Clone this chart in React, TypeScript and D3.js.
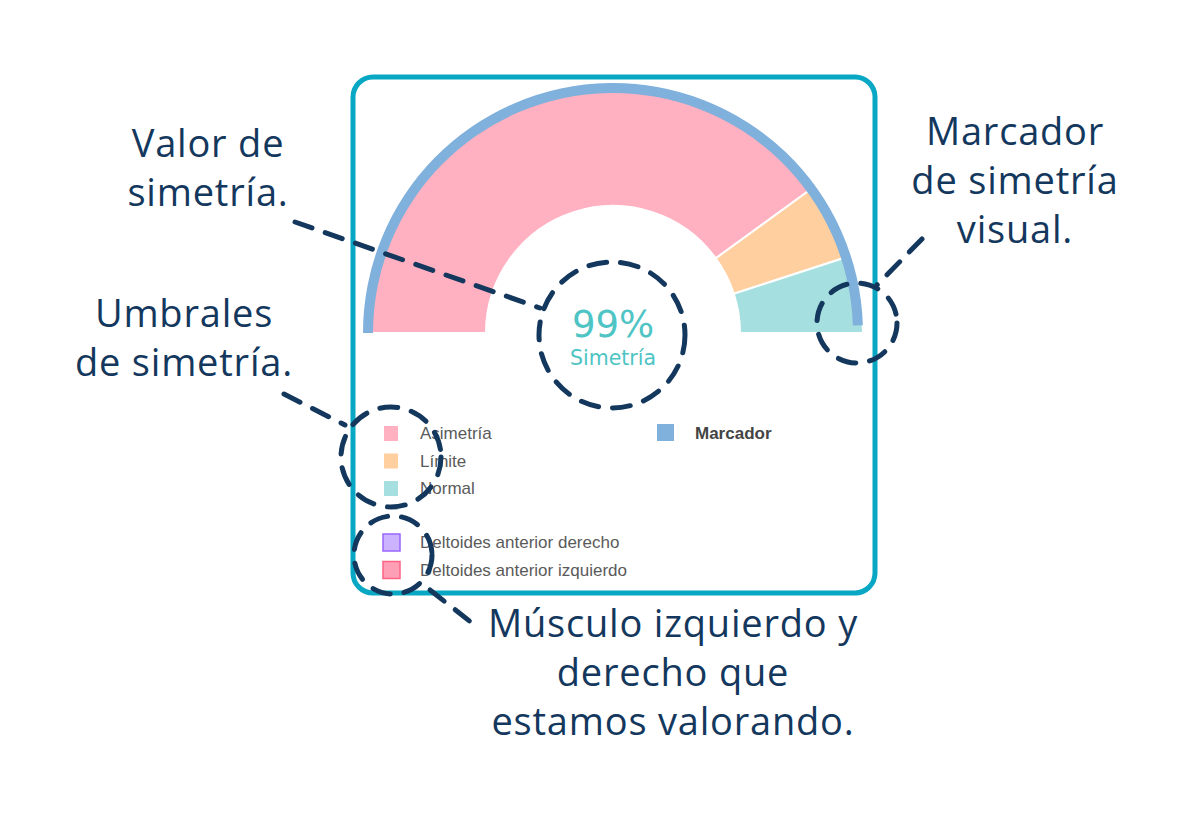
import React from 'react';
import * as d3 from 'd3';

// gauge thresholds (percent spans, left to right)
const thresholdLabels = ['Asimetría', 'Límite', 'Normal'];
const thresholdSpans = [80, 10, 10];
const thresholdColors = ['#FFB1C1', '#FFCFA0', '#A5DFDF'];

const symmetryValue = 99;
const symmetryLabel = 'Simetría';
const markerLabel = 'Marcador';
const markerColor = '#80B0DC';

const muscleLabels = ['Deltoides anterior derecho', 'Deltoides anterior izquierdo'];
const muscleFills = ['#CCB3FF', '#FF9FB6'];
const muscleStrokes = ['#9966FF', '#FF6384'];

// callout texts
const calloutValor = ['Valor de', 'simetría.'];
const calloutUmbrales = ['Umbrales', 'de simetría.'];
const calloutMarcador = ['Marcador', 'de simetría', 'visual.'];
const calloutMusculo = ['Músculo izquierdo y', 'derecho que', 'estamos valorando.'];

const W = 1200;
const H = 820;
const NAVY = '#14385D';
const ANNOT_FONT = '"Open Sans", "Noto Sans", sans-serif';
const LEGEND_FONT = '"Liberation Sans", Arial, sans-serif';

export default function App() {
  const cx = 613;
  const cy = 333;
  const innerR = 127;
  const outerR = 250;
  const markerInner = 240;

  const angle = d3.scaleLinear().domain([0, 100]).range([-Math.PI / 2, Math.PI / 2]);

  const pie = d3.pie<number>()
    .sort(null)
    .value(d => d)
    .startAngle(-Math.PI / 2)
    .endAngle(Math.PI / 2);
  const slices = pie(thresholdSpans);

  const segArc = d3.arc<d3.PieArcDatum<number>>().innerRadius(innerR).outerRadius(outerR);
  const markerArc = d3.arc()({
    innerRadius: markerInner,
    outerRadius: outerR,
    startAngle: angle(0),
    endAngle: angle(symmetryValue),
  } as any) as string;

  const dash = {
    fill: 'none',
    stroke: NAVY,
    strokeWidth: 5,
    strokeDasharray: '18 14',
    strokeLinecap: 'round' as const,
  };

  const callout = (lines: string[], x: number, y0: number, key: string) => (
    <text key={key} x={x} y={y0} textAnchor="middle" fill={NAVY}
      style={{ fontFamily: ANNOT_FONT, fontSize: 38, letterSpacing: 0.8 }}>
      {lines.map((l, i) => (
        <tspan key={i} x={x} y={y0 + i * 49}>{l}</tspan>
      ))}
    </text>
  );

  return (
    <svg width={W} height={H} style={{ display: 'block', margin: -8, background: '#fff' }}>
      {/* card */}
      <rect x={353} y={77} width={522} height={516} rx={20} ry={20}
        fill="#fff" stroke="#08A7C3" strokeWidth={5} />

      {/* gauge */}
      <g transform={`translate(${cx},${cy})`}>
        {slices.map((s, i) => (
          <path key={i} d={segArc(s) as string} fill={thresholdColors[i]}
            stroke="#fff" strokeWidth={2} strokeLinejoin="round" />
        ))}
        <path d={markerArc} fill={markerColor} />
        <text x={0} y={4} textAnchor="middle" fill="#4EC4C4"
          style={{ fontFamily: '"DejaVu Sans", Verdana, sans-serif', fontSize: 37 }}>
          {`${symmetryValue}%`}
        </text>
        <text x={0} y={32} textAnchor="middle" fill="#4EC4C4"
          style={{ fontFamily: '"DejaVu Sans", Verdana, sans-serif', fontSize: 20.5 }}>
          {symmetryLabel}
        </text>
      </g>

      {/* threshold legend */}
      <g style={{ fontFamily: LEGEND_FONT, fontSize: 17 }}>
        {thresholdLabels.map((l, i) => (
          <g key={l} transform={`translate(384,${426 + i * 27.5})`}>
            <rect width={14} height={15} fill={thresholdColors[i]} />
            <text x={36} y={13} fill="#5A5A5A">{l}</text>
          </g>
        ))}
        <g transform="translate(657,424)">
          <rect width={17} height={17} fill={markerColor} />
          <text x={38} y={15} fill="#444" fontWeight="bold">{markerLabel}</text>
        </g>
        {muscleLabels.map((l, i) => (
          <g key={l} transform={`translate(383,${534 + i * 27.5})`}>
            <rect width={17} height={17} fill={muscleFills[i]} stroke={muscleStrokes[i]} strokeWidth={1.5} />
            <text x={37} y={14} fill="#5A5A5A">{l}</text>
          </g>
        ))}
      </g>

      {/* dashed callouts */}
      <line x1={295} y1={222} x2={540} y2={308} {...dash} />
      <circle cx={612} cy={335} r={73} {...dash} />
      <line x1={284} y1={394} x2={345} y2={425} {...dash} />
      <circle cx={391} cy={457} r={50} {...dash} />
      <circle cx={393} cy={555} r={39} {...dash} />
      <line x1={430} y1={590} x2={472} y2={623} {...dash} />
      <circle cx={857} cy={323} r={40} {...dash} />
      <line x1={922} y1={239} x2={877} y2={285} {...dash} />

      {callout(calloutValor, 208, 157, 'v')}
      {callout(calloutUmbrales, 184, 327, 'u')}
      {callout(calloutMarcador, 1015, 145, 'm')}
      {callout(calloutMusculo, 673, 637, 'mu')}
    </svg>
  );
}
